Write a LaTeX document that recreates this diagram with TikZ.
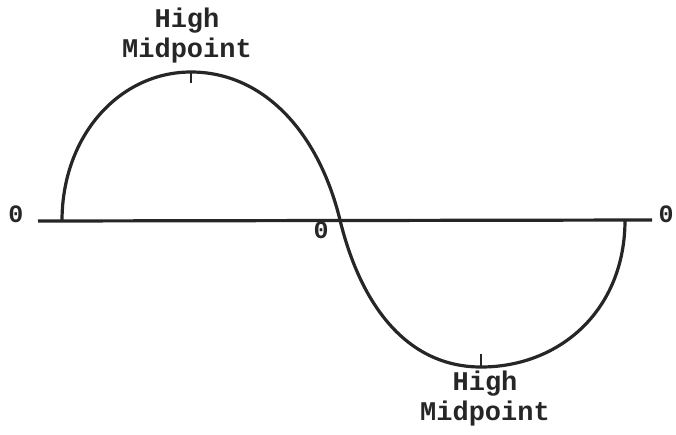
\documentclass[tikz,border=0pt]{standalone}
\usepackage{fontspec}
\setmonofont{Liberation Mono}
\begin{document}
\begin{tikzpicture}[x=1pt,y=-1pt,
  lab/.style={font=\ttfamily\bfseries\fontsize{27}{30}\selectfont, inner sep=0pt, align=center, text=black!85},
  zero/.style={font=\ttfamily\bfseries\fontsize{25}{28}\selectfont, inner sep=0pt, text=black!85},
  wave/.style={line width=3.2pt, black!85},
  tick/.style={line width=2.8pt, black!85}]
\useasboundingbox (0,0) rectangle (676,434);
\fill[white] (0,0) rectangle (676,434);
% axis
\coordinate (axL) at (38,221);
\coordinate (axR) at (652,220);
\draw[wave] (axL) -- (axR);
% zeros
\node[zero] (z1) at (16,214) {0};
\node[zero] (z2) at (321,230) {0};
\node[zero] (z3) at (666,214) {0};
% sine curve
\draw[wave] (62,221) .. controls (62,135) and (120,72) .. (191,72)
  .. controls (262,72) and (318,130) .. (340,220)
  .. controls (362,310) and (410,367) .. (481,367)
  .. controls (560,367) and (625,310) .. (625,220);
% ticks
\coordinate (t1a) at (191,72); \coordinate (t1b) at (191,83);
\coordinate (t2a) at (481,367); \coordinate (t2b) at (481,354);
\draw[tick] (t1a) -- (t1b);
\draw[tick] (t2a) -- (t2b);
% labels
\node[lab] (hi1) at (187,36) {High\\Midpoint};
\node[lab] (hi2) at (485,399) {High\\Midpoint};
\end{tikzpicture}
\end{document}
